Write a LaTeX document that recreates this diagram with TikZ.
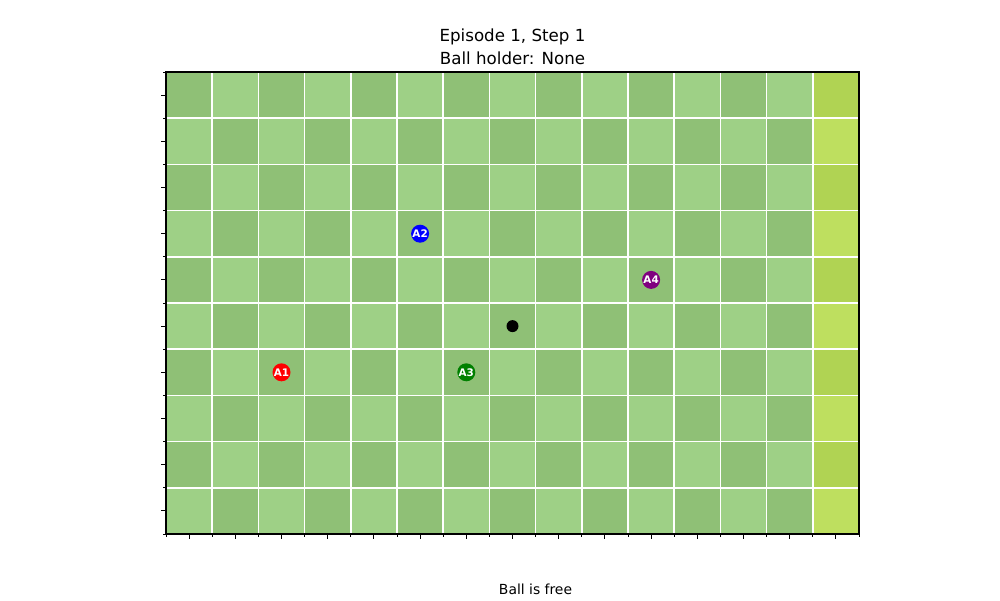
\documentclass[tikz,border=0pt]{standalone}
\usepackage{fontspec}
\setmainfont{DejaVu Sans}
\definecolor{dkg}{RGB}{143,192,118}
\definecolor{ltg}{RGB}{158,208,134}
\definecolor{dky}{RGB}{176,211,83}
\definecolor{lty}{RGB}{190,223,95}
\definecolor{agentpurple}{RGB}{128,0,128}
\definecolor{agentgreen}{RGB}{0,128,0}
\begin{document}
\begin{tikzpicture}[x=0.72pt,y=-0.72pt,
  agent/.style={circle,minimum size=18*0.72pt,inner sep=0pt,text=white,font=\fontsize{7.5}{8}\selectfont\bfseries},
  ballnode/.style={circle,fill=black,minimum size=12*0.72pt,inner sep=0pt},
  celltxt/.style={font=\fontsize{12}{14}\selectfont}]
\useasboundingbox (0,0) rectangle (1000,600);
\pgfmathsetmacro{\cw}{693/15}
\pgfmathsetmacro{\ch}{462/10}
\foreach \c in {0,...,14}{
  \foreach \r in {0,...,9}{
    \pgfmathtruncatemacro{\pty}{mod(\c+\r,2)}
    \ifnum\c=14
      \ifnum\pty=0 \def\col{dky}\else\def\col{lty}\fi
    \else
      \ifnum\pty=0 \def\col{dkg}\else\def\col{ltg}\fi
    \fi
    \fill[\col] ({166+\c*\cw},{72+\r*\ch}) rectangle ({166+(\c+1)*\cw},{72+(\r+1)*\ch});
  }
}
\foreach \c in {1,...,14}{\draw[white,line width=1.1pt] ({166+\c*\cw},72) -- ({166+\c*\cw},534);}
\foreach \r in {1,...,9}{\draw[white,line width=1.1pt] (166,{72+\r*\ch}) -- (859,{72+\r*\ch});}
% ticks
\foreach \c in {0,...,15}{\draw[black,line width=0.6pt] ({166+\c*\cw},534) -- ({166+\c*\cw},537);}
\foreach \c in {0,...,14}{\draw[black,line width=0.8pt] ({166+(\c+0.5)*\cw},534) -- ({166+(\c+0.5)*\cw},539);}
\foreach \r in {0,...,10}{\draw[black,line width=0.6pt] (166,{72+\r*\ch}) -- (163,{72+\r*\ch});}
\foreach \r in {0,...,9}{\draw[black,line width=0.8pt] (166,{72+(\r+0.5)*\ch}) -- (161,{72+(\r+0.5)*\ch});}
\draw[black,line width=0.8pt] (166,72) rectangle (859,534);
% agents
\node[agent,fill=red] (a1) at ({166+2.5*\cw},{72+6.5*\ch}) {A1};
\node[agent,fill=blue] (a2) at ({166+5.5*\cw},{72+3.5*\ch}) {A2};
\node[agent,fill=agentgreen] (a3) at ({166+6.5*\cw},{72+6.5*\ch}) {A3};
\node[agent,fill=agentpurple] (a4) at ({166+10.5*\cw},{72+4.5*\ch}) {A4};
\node[ballnode] (ball) at ({166+7.5*\cw},{72+5.5*\ch}) {};
% texts
\node[celltxt] (t1) at (512.5,37) {Episode 1, Step 1};
\node[celltxt] (t2) at (512.5,58) {Ball holder: None};
\node[font=\fontsize{10}{12}\selectfont] (t3) at (535.5,589) {Ball is free};
\end{tikzpicture}
\end{document}
